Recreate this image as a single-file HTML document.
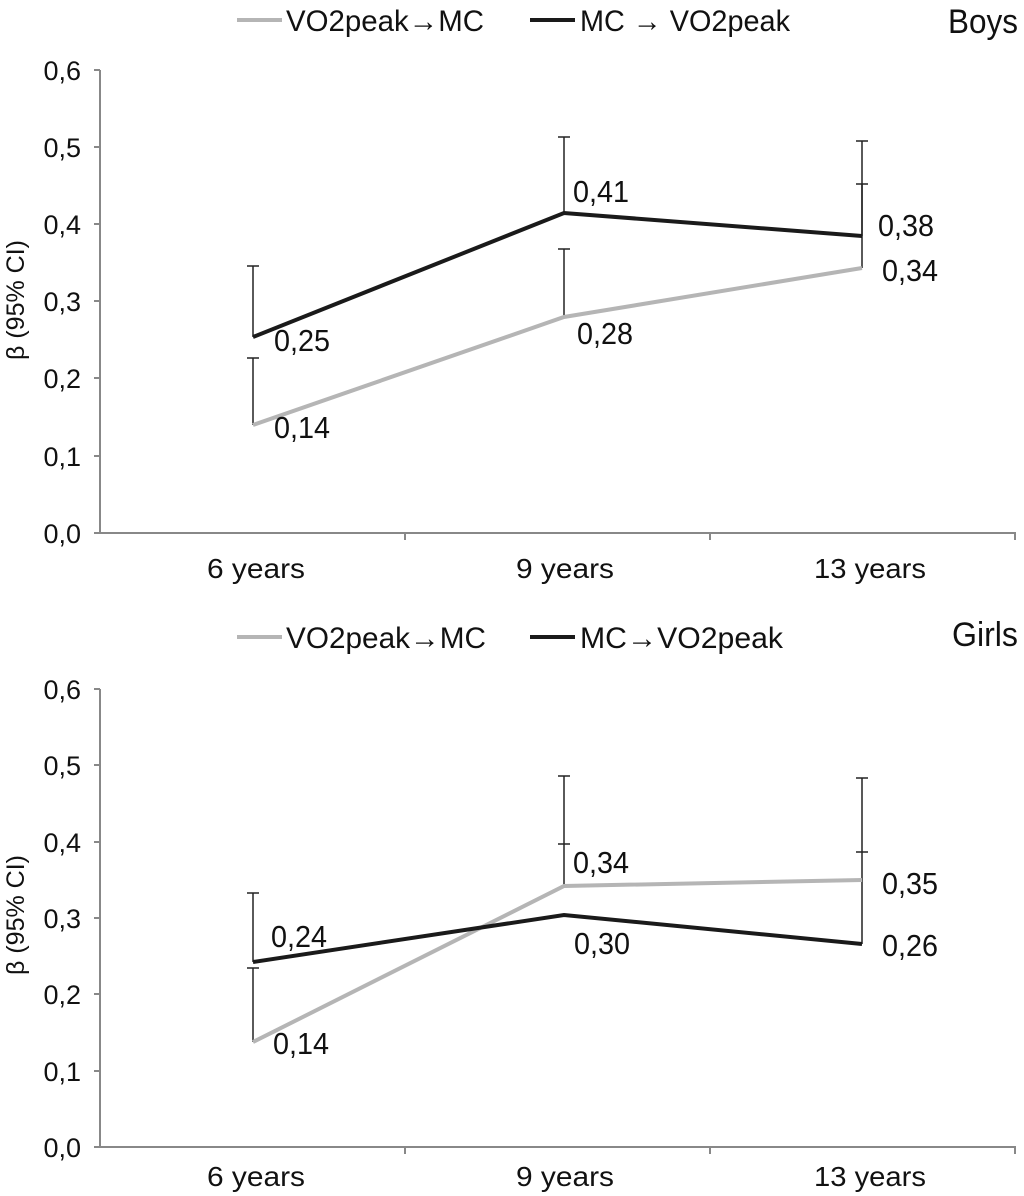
<!DOCTYPE html>
<html><head><meta charset="utf-8"><style>
html,body{margin:0;padding:0;background:#fff}
svg{display:block}
text{font-family:"Liberation Sans",sans-serif;fill:#111}
</style></head><body>
<svg width="1024" height="1196" viewBox="0 0 1024 1196" xmlns="http://www.w3.org/2000/svg">
<!-- ===== BOYS ===== -->
<g>
<line x1="237" y1="20" x2="282" y2="20" stroke="#b5b5b5" stroke-width="4"/>
<text x="286" y="31" font-size="30" textLength="198" lengthAdjust="spacingAndGlyphs">VO2peak→MC</text>
<line x1="530" y1="20" x2="575" y2="20" stroke="#1a1a1a" stroke-width="4"/>
<text x="580" y="31" font-size="30" textLength="210" lengthAdjust="spacingAndGlyphs">MC → VO2peak</text>
<text x="1018" y="33" font-size="34" text-anchor="end" textLength="70" lengthAdjust="spacingAndGlyphs">Boys</text>
<line x1="100" y1="70" x2="100" y2="533" stroke="#888" stroke-width="2"/>
<line x1="100" y1="533" x2="1016" y2="533" stroke="#888" stroke-width="2"/>
<g stroke="#888" stroke-width="2">
<line x1="94" y1="70" x2="100" y2="70"/><line x1="94" y1="147" x2="100" y2="147"/><line x1="94" y1="224" x2="100" y2="224"/><line x1="94" y1="301" x2="100" y2="301"/><line x1="94" y1="378" x2="100" y2="378"/><line x1="94" y1="456" x2="100" y2="456"/><line x1="94" y1="533" x2="100" y2="533"/>
<line x1="405" y1="533" x2="405" y2="540"/><line x1="710" y1="533" x2="710" y2="540"/><line x1="1015" y1="533" x2="1015" y2="540"/>
</g>
<g font-size="27" text-anchor="end">
<text x="81" y="80">0,6</text><text x="81" y="157">0,5</text><text x="81" y="234">0,4</text><text x="81" y="311">0,3</text><text x="81" y="388">0,2</text><text x="81" y="466">0,1</text><text x="81" y="543">0,0</text>
</g>
<g font-size="28" text-anchor="middle">
<text x="256" y="578" textLength="98" lengthAdjust="spacingAndGlyphs">6 years</text>
<text x="565" y="578" textLength="98" lengthAdjust="spacingAndGlyphs">9 years</text>
<text x="870" y="578" textLength="112" lengthAdjust="spacingAndGlyphs">13 years</text>
</g>
<text transform="translate(24,300) rotate(-90)" font-size="25" text-anchor="middle">β (95% CI)</text>
<g stroke="#222" stroke-width="1.5">
<line x1="253" y1="425" x2="253" y2="358"/><line x1="247" y1="358" x2="259" y2="358"/>
<line x1="253" y1="337" x2="253" y2="266"/><line x1="247" y1="266" x2="259" y2="266"/>
<line x1="564" y1="317" x2="564" y2="249"/><line x1="558" y1="249" x2="570" y2="249"/>
<line x1="564" y1="213" x2="564" y2="137"/><line x1="558" y1="137" x2="570" y2="137"/>
<line x1="862" y1="268" x2="862" y2="184"/><line x1="856" y1="184" x2="868" y2="184"/>
<line x1="862" y1="236" x2="862" y2="141"/><line x1="856" y1="141" x2="868" y2="141"/>
</g>
<polyline points="253,425 564,317 862,268" fill="none" stroke="#b5b5b5" stroke-width="4"/>
<polyline points="253,337 564,213 862,236" fill="none" stroke="#1a1a1a" stroke-width="4"/>
<g font-size="31">
<text x="274" y="351" textLength="56" lengthAdjust="spacingAndGlyphs">0,25</text><text x="274" y="438" textLength="56" lengthAdjust="spacingAndGlyphs">0,14</text>
<text x="573" y="202" textLength="56" lengthAdjust="spacingAndGlyphs">0,41</text><text x="577" y="344" textLength="56" lengthAdjust="spacingAndGlyphs">0,28</text>
<text x="878" y="236" textLength="56" lengthAdjust="spacingAndGlyphs">0,38</text><text x="882" y="281" textLength="56" lengthAdjust="spacingAndGlyphs">0,34</text>
</g>
</g>
<!-- ===== GIRLS ===== -->
<g>
<line x1="237" y1="637" x2="282" y2="637" stroke="#b5b5b5" stroke-width="4"/>
<text x="286" y="648" font-size="30" textLength="200" lengthAdjust="spacingAndGlyphs">VO2peak→MC</text>
<line x1="530" y1="637" x2="575" y2="637" stroke="#1a1a1a" stroke-width="4"/>
<text x="580" y="648" font-size="30" textLength="203" lengthAdjust="spacingAndGlyphs">MC→VO2peak</text>
<text x="1018" y="646" font-size="34" text-anchor="end" textLength="66" lengthAdjust="spacingAndGlyphs">Girls</text>
<line x1="100" y1="689" x2="100" y2="1147" stroke="#888" stroke-width="2"/>
<line x1="100" y1="1147" x2="1016" y2="1147" stroke="#888" stroke-width="2"/>
<g stroke="#888" stroke-width="2">
<line x1="94" y1="689" x2="100" y2="689"/><line x1="94" y1="765" x2="100" y2="765"/><line x1="94" y1="842" x2="100" y2="842"/><line x1="94" y1="918" x2="100" y2="918"/><line x1="94" y1="994" x2="100" y2="994"/><line x1="94" y1="1071" x2="100" y2="1071"/><line x1="94" y1="1147" x2="100" y2="1147"/>
<line x1="405" y1="1147" x2="405" y2="1154"/><line x1="710" y1="1147" x2="710" y2="1154"/><line x1="1015" y1="1147" x2="1015" y2="1154"/>
</g>
<g font-size="27" text-anchor="end">
<text x="81" y="699">0,6</text><text x="81" y="775">0,5</text><text x="81" y="852">0,4</text><text x="81" y="928">0,3</text><text x="81" y="1004">0,2</text><text x="81" y="1081">0,1</text><text x="81" y="1157">0,0</text>
</g>
<g font-size="28" text-anchor="middle">
<text x="256" y="1186" textLength="98" lengthAdjust="spacingAndGlyphs">6 years</text>
<text x="565" y="1186" textLength="98" lengthAdjust="spacingAndGlyphs">9 years</text>
<text x="870" y="1186" textLength="112" lengthAdjust="spacingAndGlyphs">13 years</text>
</g>
<text transform="translate(24,915) rotate(-90)" font-size="25" text-anchor="middle">β (95% CI)</text>
<g stroke="#222" stroke-width="1.5">
<line x1="253" y1="1042" x2="253" y2="968"/><line x1="247" y1="968" x2="259" y2="968"/>
<line x1="253" y1="962" x2="253" y2="893"/><line x1="247" y1="893" x2="259" y2="893"/>
<line x1="564" y1="886" x2="564" y2="776"/><line x1="558" y1="776" x2="570" y2="776"/>
<line x1="558" y1="844" x2="570" y2="844"/>
<line x1="862" y1="944" x2="862" y2="778"/><line x1="856" y1="778" x2="868" y2="778"/>
<line x1="856" y1="852" x2="868" y2="852"/>
</g>
<polyline points="253,1042 564,886 862,880" fill="none" stroke="#b5b5b5" stroke-width="4"/>
<polyline points="253,962 564,915 862,944" fill="none" stroke="#1a1a1a" stroke-width="4"/>
<g font-size="31">
<text x="271" y="947" textLength="56" lengthAdjust="spacingAndGlyphs">0,24</text><text x="273" y="1054" textLength="56" lengthAdjust="spacingAndGlyphs">0,14</text>
<text x="573" y="873" textLength="56" lengthAdjust="spacingAndGlyphs">0,34</text><text x="574" y="954" textLength="56" lengthAdjust="spacingAndGlyphs">0,30</text>
<text x="882" y="894" textLength="56" lengthAdjust="spacingAndGlyphs">0,35</text><text x="882" y="956" textLength="56" lengthAdjust="spacingAndGlyphs">0,26</text>
</g>
</g>
</svg>
</body></html>
